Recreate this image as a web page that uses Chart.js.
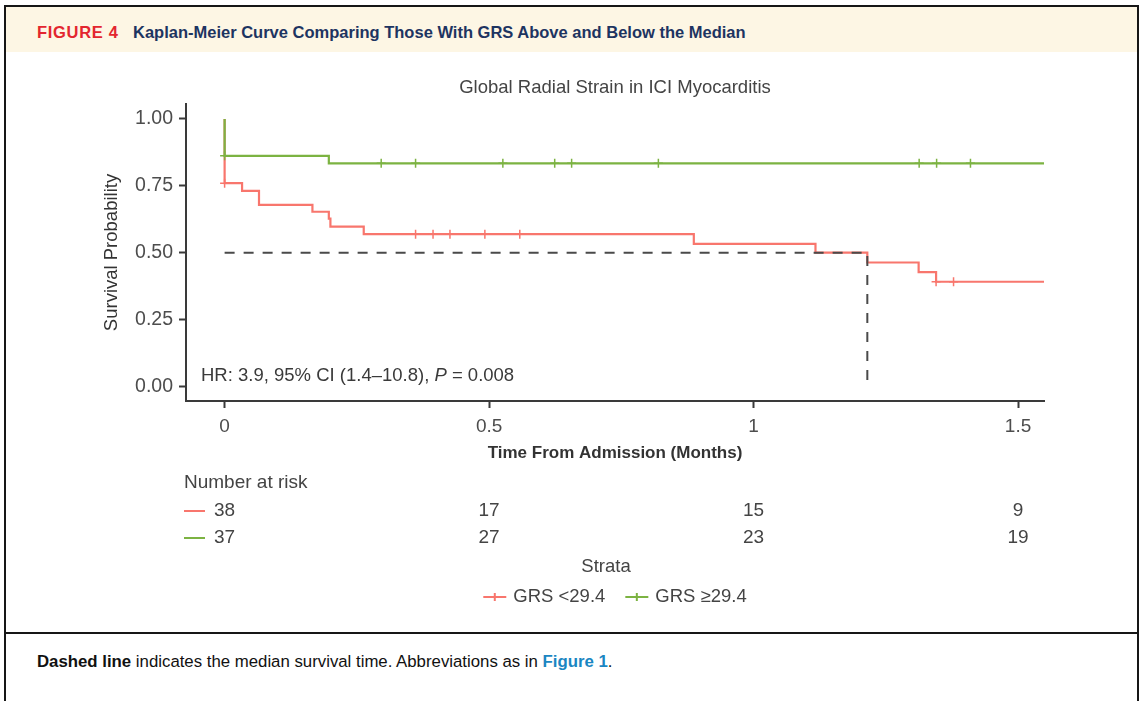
<!DOCTYPE html>
<html>
<head>
<meta charset="utf-8">
<script src="https://cdn.jsdelivr.net/npm/chart.js@4.4.1/dist/chart.umd.min.js"></script>
<style>
  html, body { margin: 0; padding: 0; background: #fff; }
  body { width: 1143px; height: 701px; position: relative; overflow: hidden; font-family: "Liberation Sans", Arial, sans-serif; }
  #frame { position: absolute; left: 4px; top: 5px; width: 1131px; height: 760px; border: 2px solid #161616; }
  #hdr { position: absolute; left: 0; top: 0; right: 0; height: 45px; background: #fdf6e4; }
  #hdr span { position: absolute; top: 15px; line-height: 20px; font-weight: bold; font-size: 16.5px; }
  #hdr .fig { left: 31px; color: #e3262f; letter-spacing: 0.7px; }
  #hdr .ttl { left: 127px; color: #1d3461; }
  #sep { position: absolute; left: 0; right: 0; top: 625px; border-top: 2px solid #161616; }
  #caption { position: absolute; left: 31px; top: 645px; font-size: 16.8px; line-height: 20px; color: #111; }
  #caption a { color: #1a86c2; font-weight: bold; text-decoration: none; }
  #chart { position: absolute; left: 0; top: 0; z-index: 2; }
</style>
</head>
<body>
<div id="frame">
  <div id="hdr"><span class="fig">FIGURE 4</span><span class="ttl">Kaplan-Meier Curve Comparing Those With GRS Above and Below the Median</span></div>
  <div id="sep"></div>
  <div id="caption"><b>Dashed line</b> indicates the median survival time. Abbreviations as in <a>Figure 1</a>.</div>
</div>
<canvas id="chart" width="1143" height="701"></canvas>
<script>
// KM step points (time in months, survival probability)
const redTime = [0, 0, 0.033, 0.065, 0.166, 0.197, 0.200, 0.263, 0.887, 1.117, 1.215, 1.312, 1.345, 1.549];
const redSurv = [1, 0.76, 0.731, 0.679, 0.653, 0.627, 0.597, 0.569, 0.533, 0.5, 0.463, 0.427, 0.391, 0.391];
const greenTime = [0, 0, 0.197, 1.549];
const greenSurv = [1, 0.862, 0.834, 0.834];

// censoring marks
const redCensor = [0, 0.361, 0.394, 0.426, 0.492, 0.558, 1.345, 1.378];
const greenCensor = [0, 0.296, 0.361, 0.526, 0.624, 0.656, 0.820, 1.313, 1.346, 1.410];

const medianTime = 1.215;
const medianSurv = 0.5;

const xTicks = [0, 0.5, 1, 1.5];
const xTickLabels = ['0', '0.5', '1', '1.5'];
const yTicks = [0, 0.25, 0.5, 0.75, 1];

const riskTimes = [0, 0.5, 1, 1.5];
const riskRed = [38, 17, 15, 9];
const riskGreen = [37, 27, 23, 19];
const strata = ['GRS <29.4', 'GRS \u226529.4'];

const RED = '#f8766d';
const GREEN = '#7cb342';
const FONT = '"Liberation Sans", Arial, sans-serif';

function survAt(times, surv, t) {
    let s = surv[0];
    for (let i = 0; i < times.length; i++) {
        if (times[i] <= t) s = surv[i];
    }
    return s;
}

const toPts = (xs, ys) => xs.map((x, i) => ({ x: x, y: ys[i] }));
const censorPts = (cs, xs, ys) => cs.map(t => ({ x: t, y: survAt(xs, ys, t) }));

// title, risk table, annotation and legend
const extrasPlugin = {
    id: 'extras',
    afterDraw(chart) {
        const ctx = chart.ctx;
        const xs = chart.scales.x;
        const area = chart.chartArea;
        const midX = (area.left + area.right) / 2;
        ctx.save();
        ctx.textBaseline = 'middle';

        // plot title, centred on the panel
        ctx.fillStyle = '#444';
        ctx.font = '18.5px ' + FONT;
        ctx.textAlign = 'center';
        ctx.fillText('Global Radial Strain in ICI Myocarditis', midX, 88);

        // HR annotation
        ctx.fillStyle = '#3a3a3a';
        ctx.textAlign = 'left';
        let tx = area.left + 15;
        const ty = 376;
        const part1 = 'HR: 3.9, 95% CI (1.4\u201310.8), ';
        ctx.fillText(part1, tx, ty);
        tx += ctx.measureText(part1).width;
        ctx.font = 'italic 18.5px ' + FONT;
        ctx.fillText('P', tx, ty);
        tx += ctx.measureText('P').width;
        ctx.font = '18.5px ' + FONT;
        ctx.fillText(' = 0.008', tx, ty);

        // number at risk
        ctx.font = '19px ' + FONT;
        ctx.fillStyle = '#444';
        ctx.fillText('Number at risk', 184, 483);
        const rows = [[riskRed, RED, 511], [riskGreen, GREEN, 538]];
        rows.forEach(([vals, col, y]) => {
            ctx.strokeStyle = col;
            ctx.lineWidth = 2;
            ctx.beginPath();
            ctx.moveTo(184, y);
            ctx.lineTo(205, y);
            ctx.stroke();
            ctx.textAlign = 'center';
            ctx.fillStyle = '#444';
            vals.forEach((v, i) => {
                ctx.fillText(String(v), xs.getPixelForValue(riskTimes[i]), y);
            });
            ctx.textAlign = 'left';
        });

        // legend
        ctx.font = '18.5px ' + FONT;
        ctx.textAlign = 'center';
        ctx.fillText('Strata', 606, 567);
        ctx.textAlign = 'left';
        const ly = 597;
        const keyW = 23, gap = 7, between = 20;
        const widths = strata.map(s => ctx.measureText(s).width);
        const total = keyW * 2 + gap * 2 + widths[0] + widths[1] + between;
        let lx = midX - total / 2;
        [RED, GREEN].forEach((col, i) => {
            ctx.strokeStyle = col;
            ctx.lineWidth = 2;
            ctx.beginPath();
            ctx.moveTo(lx, ly);
            ctx.lineTo(lx + keyW, ly);
            ctx.moveTo(lx + keyW / 2, ly - 4);
            ctx.lineTo(lx + keyW / 2, ly + 4);
            ctx.stroke();
            ctx.fillStyle = '#444';
            ctx.fillText(strata[i], lx + keyW + gap, ly);
            lx += keyW + gap + widths[i] + between;
        });
        ctx.restore();
    }
};

new Chart(document.getElementById('chart'), {
    type: 'line',
    data: {
        datasets: [
            {
                label: 'median',
                data: [{ x: 0, y: medianSurv }, { x: medianTime, y: medianSurv }, { x: medianTime, y: 0 }],
                borderColor: '#4a4a4a',
                borderWidth: 2,
                borderDash: [10, 9],
                pointRadius: 0,
                order: 0
            },
            {
                label: strata[1] + ' censor',
                data: censorPts(greenCensor, greenTime, greenSurv),
                showLine: false,
                pointStyle: 'cross',
                pointRadius: 4.5,
                borderColor: GREEN,
                borderWidth: 1.5,
                order: 1
            },
            {
                label: strata[0] + ' censor',
                data: censorPts(redCensor, redTime, redSurv),
                showLine: false,
                pointStyle: 'cross',
                pointRadius: 4.5,
                borderColor: RED,
                borderWidth: 1.5,
                order: 1
            },
            {
                label: strata[1],
                data: toPts(greenTime, greenSurv),
                stepped: 'before',
                borderColor: GREEN,
                borderWidth: 2.2,
                pointRadius: 0,
                order: 2
            },
            {
                label: strata[0],
                data: toPts(redTime, redSurv),
                stepped: 'before',
                borderColor: RED,
                borderWidth: 2.2,
                pointRadius: 0,
                order: 3
            }
        ]
    },
    options: {
        responsive: false,
        devicePixelRatio: 1,
        animation: false,
        layout: { padding: { top: 104, left: 0, right: 99, bottom: 231 } },
        plugins: {
            legend: { display: false },
            tooltip: { enabled: false },
            title: { display: false }
        },
        scales: {
            x: {
                type: 'linear',
                min: -0.073,
                max: 1.549,
                afterBuildTicks: (s) => { s.ticks = xTicks.map(v => ({ value: v })); },
                afterFit: (s) => { s.height = 69; },
                ticks: {
                    callback: (v, i) => xTickLabels[i],
                    color: '#4d4d4d',
                    font: { family: FONT, size: 19 },
                    padding: 7,
                    maxRotation: 0,
                    autoSkip: false
                },
                grid: { drawOnChartArea: false, drawTicks: true, tickLength: 7, tickWidth: 2, color: '#3a3a3a' },
                border: { display: true, color: '#3a3a3a', width: 2 },
                title: {
                    display: true,
                    text: 'Time From Admission (Months)',
                    color: '#333',
                    font: { family: FONT, size: 17, weight: 'bold' },
                    padding: { top: 0, bottom: 6 }
                }
            },
            y: {
                min: -0.055,
                max: 1.056,
                afterBuildTicks: (s) => { s.ticks = yTicks.map(v => ({ value: v })); },
                afterFit: (s) => { s.width = 186; },
                ticks: {
                    callback: (v) => Number(v).toFixed(2),
                    color: '#4d4d4d',
                    font: { family: FONT, size: 19.5 },
                    padding: 6
                },
                grid: { drawOnChartArea: false, drawTicks: true, tickLength: 7, tickWidth: 2, color: '#3a3a3a' },
                border: { display: true, color: '#3a3a3a', width: 2 },
                title: {
                    display: true,
                    text: 'Survival Probability',
                    color: '#333',
                    font: { family: FONT, size: 18.5 },
                    padding: { top: 101, bottom: 0 }
                }
            }
        }
    },
    plugins: [extrasPlugin]
});
</script>
</body>
</html>
